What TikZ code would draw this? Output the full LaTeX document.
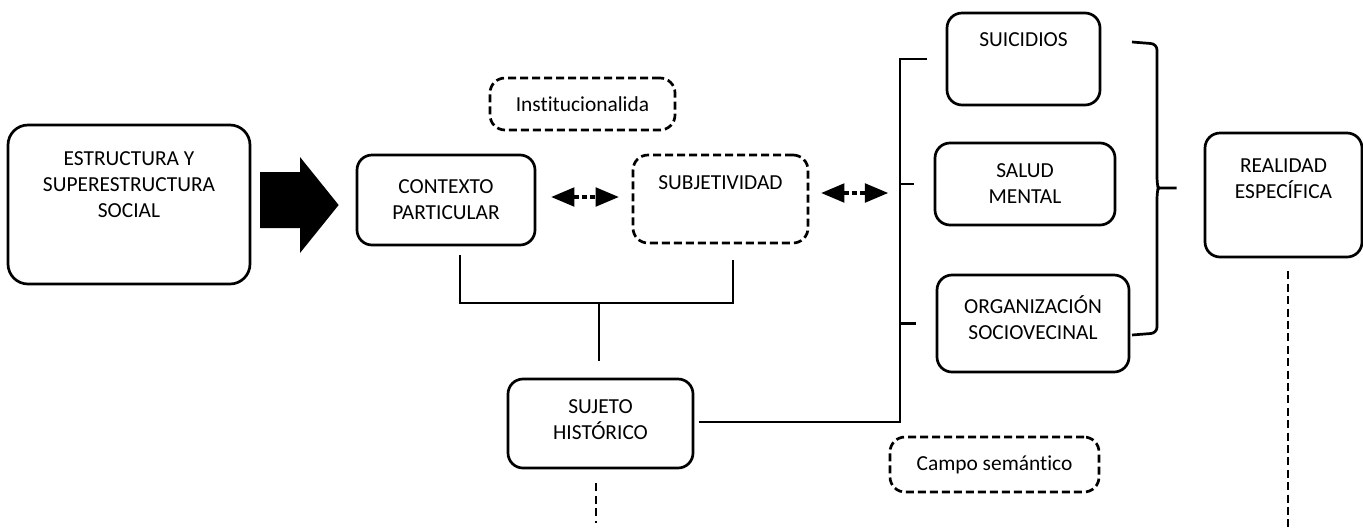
\documentclass[tikz,border=0pt]{standalone}
\usepackage{fontspec}
\setmainfont{Carlito}[Ligatures=NoCommon]
\usepackage{pgf,tikz}
\usetikzlibrary{arrows}

\begin{document}
\begin{tikzpicture}[>=triangle 45,x=0.5pt,y=-0.5pt,
	every node/.style={font=\fontsize{10.7pt}{13pt}\selectfont},
	box/.style={draw,rounded corners=7.5pt,line width=1.35pt,align=center},
	dbox/.style={box,dash pattern=on 4pt off 2pt},
	conn/.style={line width=1.35pt},
	dline/.style={line width=1.35pt,dash pattern=on 4pt off 2.2pt},
	dotarr/.style={<->,line width=1.7pt,dash pattern=on 2.6pt off 1.6pt}]
				\useasboundingbox (0,0) rectangle (1363,531);
				
				\node[box,rounded corners=10pt,minimum width=121pt,minimum height=79.5pt,
					label={[align=center,yshift=9.75pt]center:ESTRUCTURA Y\\SUPERESTRUCTURA\\SOCIAL}]
					(estr) at (129,204.5) {};
				\node[box,minimum width=89pt,minimum height=45pt] (ctx) at (446,200) {CONTEXTO\\PARTICULAR};
				\node[dbox,minimum width=92.5pt,minimum height=26pt] (inst) at (582.5,104) {Institucionalida};
				\node[dbox,minimum width=87.5pt,minimum height=44pt,
					label={[yshift=8pt]center:SUBJETIVIDAD}] (subj) at (720.5,199) {};
				\node[box,minimum width=92.5pt,minimum height=44.5pt,
					label={[align=center,yshift=1.75pt]center:SUJETO\\HISTÓRICO}] (suj) at (600.5,423.5) {};
				\node[dbox,minimum width=104.5pt,minimum height=27.5pt] (campo) at (994.5,464.5) {Campo semántico};
				
				\node[box,minimum width=76.5pt,minimum height=46pt,
					label={[yshift=9.5pt]center:SUICIDIOS}] (sui) at (1023.5,59) {};
				\node[box,minimum width=90pt,minimum height=41pt] (sal) at (1025,184) {SALUD\\MENTAL};
				\node[box,minimum width=96pt,minimum height=48.5pt,
					label={[align=center,yshift=3pt]center:ORGANIZACIÓN\\SOCIOVECINAL}] (org) at (1033,323.5) {};
				\node[box,minimum width=78.5pt,minimum height=62pt,
					label={[align=center,yshift=8.25pt]center:REALIDAD\\ESPECÍFICA}] (real) at (1283.5,195) {};
				
				% flecha gruesa
				\fill (260,172) -- (300,172) -- (300,157) -- ([xshift=-8.5pt,yshift=-2.5pt]ctx.west)
					-- (300,253) -- (300,228) -- (260,228) -- cycle;
				
				\coordinate (bar) at (900,193);
				\draw[dotarr] ([xshift=7.5pt,yshift=1.5pt]ctx.east) -- ([xshift=-6.5pt,yshift=1pt]subj.west);
				\draw[dotarr] ([xshift=6pt,yshift=3pt]subj.east) -- ([xshift=-6pt]bar);
				
				\draw[conn] (460,255) -- (460,303) -- (733,303) -- (733,260);
				\draw[conn] (599,303) -- ([yshift=8.5pt]suj.north -| 599,0);
				
				\draw[conn] ([xshift=-9.5pt]sui.west) -- (900,59) -- (900,422) -- ([xshift=2.5pt]suj.east |- 0,422);
				\foreach \n in {sal,org}
					\draw[conn] (\n.west -| bar) -- ([xshift=-10pt]\n.west);
				
				\draw[conn,rounded corners=3pt] (1132,42) -- (1157,44) -- (1157,183)
					.. controls (1158,188) .. (1180,188) .. controls (1158,188) .. (1157,193)
					-- (1157,333) -- (1132,335);
				
				\draw[dline] ([yshift=-7pt]suj.south -| 596,0) -- ++(0,40);
				\draw[dline] ([yshift=-6.5pt]real.south -| 1288,0) -- (1288,531);
	\end{tikzpicture}
\end{document}
